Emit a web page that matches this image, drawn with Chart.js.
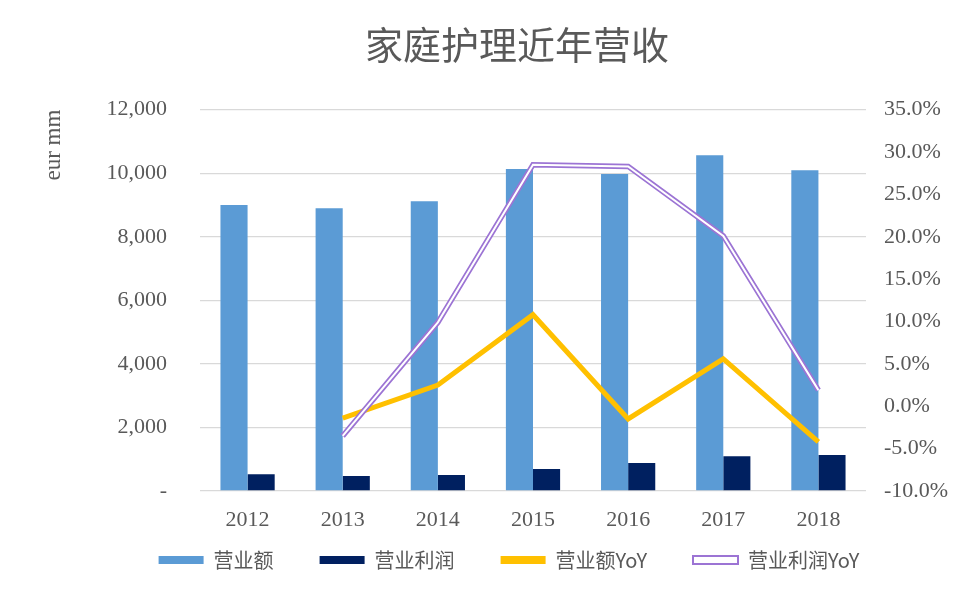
<!DOCTYPE html>
<html>
<head>
<meta charset="utf-8">
<script src="https://cdn.jsdelivr.net/npm/chart.js@4.4.1/dist/chart.umd.min.js"></script>
<style>
  html, body { margin: 0; padding: 0; background: #fff; }
  #wrap { width: 978px; height: 606px; }
</style>
</head>
<body>
<div id="wrap"><canvas id="chart"></canvas></div>
<script>
// Chart values
const years = ['2012', '2013', '2014', '2015', '2016', '2017', '2018'];
const revenue = [9000, 8900, 9120, 10130, 9970, 10560, 10090];
const profit = [530, 470, 500, 690, 880, 1090, 1130];
const revenueYoY = [null, -1.4, 2.5, 10.8, -1.5, 5.6, -4.2];
const profitYoY = [null, -3.5, 9.9, 28.5, 28.3, 20.1, 1.9];
const leftTicks = ['-', '2,000', '4,000', '6,000', '8,000', '10,000', '12,000'];
const rightTicks = ['-10.0%', '-5.0%', '0.0%', '5.0%', '10.0%', '15.0%', '20.0%', '25.0%', '30.0%', '35.0%'];

const textColor = '#595959';
const purple = '#9c74d4';
const serif = '"Liberation Serif", "DejaVu Serif", serif';
const cjk = '"Noto Sans CJK SC", sans-serif';

// legend sits close under the year labels, pull it up (and a bit left) after layout
const legendLift = {
    id: 'legendLift',
    afterLayout(chart) {
        const legend = chart.legend;
        const lift = legend.top + legend.options.labels.padding - 550;
        legend.top -= lift;
        legend.bottom -= lift;
        legend.left -= 8;
        legend.right -= 8;
    }
};

document.addEventListener('DOMContentLoaded', function() {
    const ctx = document.getElementById('chart').getContext('2d');
    const defaultLabels = Chart.defaults.plugins.legend.labels.generateLabels;

    new Chart(ctx, {
        data: {
            labels: years,
            datasets: [
                {
                    type: 'bar',
                    label: '营业额',
                    data: revenue,
                    backgroundColor: '#5b9bd5',
                    yAxisID: 'y',
                    order: 3
                },
                {
                    type: 'bar',
                    label: '营业利润',
                    data: profit,
                    backgroundColor: '#002060',
                    yAxisID: 'y',
                    order: 3
                },
                {
                    type: 'line',
                    label: '营业额YoY',
                    data: revenueYoY,
                    borderColor: '#ffc000',
                    backgroundColor: '#ffc000',
                    borderWidth: 5,
                    pointRadius: 0,
                    tension: 0,
                    yAxisID: 'y1',
                    order: 2
                },
                {
                    type: 'line',
                    label: '营业利润YoY',
                    data: profitYoY,
                    borderColor: purple,
                    backgroundColor: '#ffffff',
                    borderWidth: 5.5,
                    pointRadius: 0,
                    tension: 0,
                    yAxisID: 'y1',
                    order: 1
                },
                {
                    // white core to give the double-line look
                    type: 'line',
                    label: 'core',
                    data: profitYoY,
                    borderColor: '#ffffff',
                    borderWidth: 2,
                    pointRadius: 0,
                    tension: 0,
                    yAxisID: 'y1',
                    order: 0
                }
            ]
        },
        options: {
            responsive: true,
            maintainAspectRatio: false,
            animation: false,
            layout: { padding: { left: 40, right: -16, top: 0, bottom: -4 } },
            datasets: {
                bar: { barPercentage: 1, categoryPercentage: 0.57 }
            },
            plugins: {
                title: {
                    display: true,
                    text: '家庭护理近年营收',
                    color: textColor,
                    font: { family: cjk, size: 38, weight: 'normal' },
                    padding: { top: 22, bottom: 42 }
                },
                legend: {
                    position: 'bottom',
                    labels: {
                        color: textColor,
                        font: { family: cjk, size: 20 },
                        boxWidth: 45,
                        boxHeight: 8,
                        padding: 46,
                        sort: (a, b) => a.datasetIndex - b.datasetIndex,
                        filter: item => item.text !== 'core',
                        generateLabels: function(chart) {
                            const items = defaultLabels(chart);
                            items.forEach(item => {
                                if (item.text === '营业利润YoY') {
                                    item.fillStyle = '#ffffff';
                                    item.strokeStyle = purple;
                                    item.lineWidth = 2;
                                } else {
                                    item.lineWidth = 0;
                                }
                            });
                            return items;
                        }
                    }
                },
                tooltip: { enabled: false }
            },
            scales: {
                x: {
                    grid: { display: false, drawTicks: false },
                    border: { display: false },
                    ticks: {
                        color: textColor,
                        font: { family: serif, size: 22 },
                        padding: 16
                    },
                    afterFit: scale => { scale.height = 43; }
                },
                y: {
                    position: 'left',
                    min: 0,
                    max: 12000,
                    grid: { color: '#d9d9d9', lineWidth: 1.3, drawTicks: false },
                    border: { display: false },
                    title: {
                        display: true,
                        text: 'eur mm',
                        align: 'end',
                        color: textColor,
                        font: { family: serif, size: 23 },
                        padding: { top: 0, bottom: 0 }
                    },
                    ticks: {
                        stepSize: 2000,
                        color: textColor,
                        font: { family: serif, size: 22 },
                        padding: 33,
                        callback: (value, index) => leftTicks[index]
                    },
                    afterFit: scale => { scale.width = 160; }
                },
                y1: {
                    position: 'right',
                    min: -10,
                    max: 35,
                    grid: { display: false, drawTicks: false },
                    border: { display: false },
                    ticks: {
                        stepSize: 5,
                        color: textColor,
                        font: { family: serif, size: 22 },
                        padding: 18,
                        callback: (value, index) => rightTicks[index]
                    },
                    afterFit: scale => { scale.width = 128; }
                }
            }
        },
        plugins: [legendLift]
    });
});
</script>
</body>
</html>
